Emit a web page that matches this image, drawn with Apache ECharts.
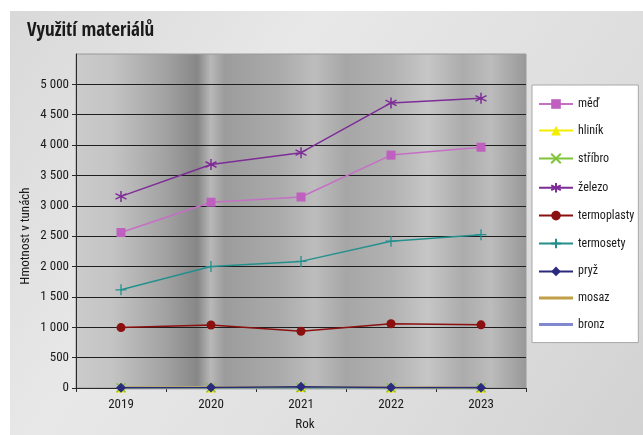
<!DOCTYPE html>
<html>
<head>
<meta charset="utf-8">
<script src="https://cdn.jsdelivr.net/npm/echarts@6/dist/echarts.min.js"></script>
<style>
html,body{margin:0;padding:0;background:#fff;}
#chart{width:643px;height:435px;}
</style>
</head>
<body>
<div id="chart"></div>
<script>
const categories = ['2019', '2020', '2021', '2022', '2023'];
const med = [2560, 3060, 3145, 3835, 3965];
const hlinik = [8, 10, 15, 8, 6];
const stribro = [3, 4, 6, 4, 3];
const zelezo = [3155, 3680, 3875, 4695, 4770];
const termoplasty = [995, 1038, 935, 1058, 1040];
const termosety = [1617, 2000, 2085, 2418, 2525];
const pryz = [5, 8, 22, 10, 5];
const mosaz = [4, 4, 6, 5, 4];
const bronz = [2, 2, 3, 2, 2];
const yTicks = [0, 500, 1000, 1500, 2000, 2500, 3000, 3500, 4000, 4500, 5000];

const FONT = '"Roboto Condensed", "Liberation Sans", sans-serif';
const TFONT = '"Open Sans Condensed", "Roboto Condensed", sans-serif';

const chart = echarts.init(document.getElementById('chart'), null, {renderer: 'canvas'});

function mk(name, data, color, symbol, size, extra) {
  return Object.assign({
    name: name,
    type: 'line',
    data: data,
    symbol: symbol,
    symbolSize: size,
    lineStyle: {color: color, width: 1.5},
    itemStyle: {color: color, borderColor: color, borderWidth: 0},
    emphasis: {disabled: true},
    z: 3
  }, extra || {});
}

const starPath = 'path://M5,0L5,10M0.8,2.5L9.2,7.5M9.2,2.5L0.8,7.5';
const plusPath = 'path://M5,0L5,10M0,5L10,5';
const xPath = 'path://M0,0L10,10M10,0L0,10';
const barIcon = 'path://M0,0H34V3H0Z';

const option = {
  animation: false,
  backgroundColor: new echarts.graphic.LinearGradient(0, 0, 1, 1, [
    {offset: 0, color: '#d8d8d8'},
    {offset: 0.35, color: '#e8e8e8'},
    {offset: 0.7, color: '#dedede'},
    {offset: 1, color: '#d2d2d2'}
  ]),
  graphic: [
    {type: 'rect', left: 0, top: 0, shape: {width: 643, height: 11}, style: {fill: '#ffffff'}, z: -1},
    {type: 'rect', left: 0, top: 0, shape: {width: 10, height: 435}, style: {fill: '#ffffff'}, z: -1},
    {type: 'text', left: 27, top: 22, style: {text: 'Využití materiálů', font: 'bold 19px ' + TFONT, fill: '#1a1a1a'}},
    {type: 'text', x: 26, y: 236, rotation: Math.PI / 2, style: {text: 'Hmotnost v tunách', font: '13px ' + FONT, fill: '#1a1a1a', align: 'center', verticalAlign: 'middle'}},
    {type: 'text', x: 305, y: 425, style: {text: 'Rok', font: '13px ' + FONT, fill: '#1a1a1a', align: 'center', verticalAlign: 'middle'}}
  ],
  grid: {
    left: 76, right: 117, top: 54, bottom: 47,
    show: true,
    borderColor: '#9a9a9a',
    borderWidth: 1,
    backgroundColor: new echarts.graphic.LinearGradient(0, 0, 1, 0, [
      {offset: 0.00, color: '#cbcbcb'},
      {offset: 0.08, color: '#c4c4c4'},
      {offset: 0.20, color: '#a2a2a2'},
      {offset: 0.27, color: '#878787'},
      {offset: 0.30, color: '#b8b8b8'},
      {offset: 0.33, color: '#9c9c9c'},
      {offset: 0.45, color: '#aaaaaa'},
      {offset: 0.53, color: '#bdbdbd'},
      {offset: 0.60, color: '#a6a6a6'},
      {offset: 0.70, color: '#b2b2b2'},
      {offset: 0.78, color: '#c6c6c6'},
      {offset: 0.86, color: '#acacac'},
      {offset: 0.92, color: '#bcbcbc'},
      {offset: 1.00, color: '#989898'}
    ])
  },
  legend: {
    orient: 'vertical',
    left: 532, top: 85,
    backgroundColor: '#ffffff',
    borderColor: '#a8a8a8',
    borderWidth: 1,
    padding: [13, 4, 12, 6],
    itemWidth: 34,
    itemHeight: 12,
    itemGap: 14.6,
    itemTextGap: 4,
    textStyle: {fontFamily: FONT, fontSize: 12, color: '#1a1a1a'},
    data: ['měď', 'hliník', 'stříbro', 'železo', 'termoplasty', 'termosety', 'pryž',
      {name: 'mosaz', icon: barIcon}, {name: 'bronz', icon: barIcon}]
  },
  xAxis: {
    type: 'category',
    data: categories,
    boundaryGap: true,
    axisLine: {lineStyle: {color: '#2a2a2a', width: 1}},
    axisTick: {show: true, length: 4, lineStyle: {color: '#2a2a2a'}},
    axisLabel: {fontFamily: FONT, fontSize: 13, color: '#1a1a1a', margin: 10}
  },
  yAxis: {
    type: 'value',
    min: 0, max: 5500, interval: 500,
    axisLine: {show: true, lineStyle: {color: '#2a2a2a'}},
    axisTick: {show: true, length: 4, lineStyle: {color: '#2a2a2a'}},
    axisLabel: {
      fontFamily: FONT, fontSize: 13, color: '#1a1a1a', margin: 7,
      showMaxLabel: false,
      formatter: function (v) {
        if (yTicks.indexOf(v) < 0) return '';
        return v >= 1000 ? Math.floor(v / 1000) + ' ' + String(v % 1000).padStart(3, '0') : String(v);
      }
    },
    splitLine: {show: true, showMaxLine: false, lineStyle: {color: '#1e1e1e', width: 1}}
  },
  series: [
    mk('měď', med, '#bf5fbf', 'rect', 9, {lineStyle: {color: '#c56fc5', width: 1.5}}),
    mk('hliník', hlinik, '#f2ee00', 'triangle', 10),
    mk('stříbro', stribro, '#80c43a', xPath, 9, {itemStyle: {color: 'none', borderColor: '#80c43a', borderWidth: 1.5}}),
    mk('železo', zelezo, '#7e2d97', starPath, 11, {itemStyle: {color: 'none', borderColor: '#7e2d97', borderWidth: 1.5}}),
    mk('termoplasty', termoplasty, '#8b1010', 'circle', 9),
    mk('termosety', termosety, '#23908e', plusPath, 11, {itemStyle: {color: 'none', borderColor: '#23908e', borderWidth: 1.3}}),
    mk('pryž', pryz, '#2b2a7e', 'diamond', 10),
    mk('mosaz', mosaz, '#c0a048', 'none', 0, {lineStyle: {color: '#c0a048', width: 3}, z: 2}),
    mk('bronz', bronz, '#8088d0', 'none', 0, {lineStyle: {color: '#8088d0', width: 3}, z: 2})
  ]
};
chart.setOption(option);
</script>
</body>
</html>
